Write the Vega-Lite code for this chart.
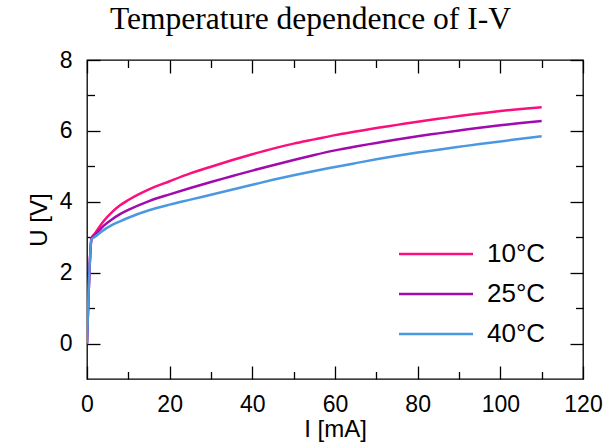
{
  "$schema": "https://vega.github.io/schema/vega-lite/v6.json",
  "width": 496,
  "height": 319,
  "autosize": "none",
  "padding": {"left": 87, "top": 60, "right": 28, "bottom": 69},
  "title": {"text": "Temperature dependence of I-V", "font": "Liberation Serif", "fontSize": 31.5, "fontWeight": "normal", "color": "black", "offset": 14, "anchor": "start", "frame": "group", "dx": 23},
  "config": {
    "view": {"stroke": "black", "strokeWidth": 1.3},
    "axis": {"grid": false, "domain": false, "labelFlush": false, "tickColor": "black", "tickWidth": 1.3, "labelFont": "Liberation Sans", "labelFontSize": 23, "labelColor": "black", "titleFont": "Liberation Sans", "titleFontSize": 24, "titleFontWeight": "normal", "titleColor": "black"},
    "legend": {"labelFont": "Liberation Sans", "labelFontSize": 26, "labelColor": "black"}
  },
  "data": {"values": [
    {"T": "10°C", "I": 0, "U": 0}, {"T": "10°C", "I": 1.1, "U": 2.97}, {"T": "10°C", "I": 2, "U": 3.12}, {"T": "10°C", "I": 4, "U": 3.45}, {"T": "10°C", "I": 6, "U": 3.70}, {"T": "10°C", "I": 8, "U": 3.90}, {"T": "10°C", "I": 10, "U": 4.05}, {"T": "10°C", "I": 15, "U": 4.35}, {"T": "10°C", "I": 20, "U": 4.58}, {"T": "10°C", "I": 25, "U": 4.80}, {"T": "10°C", "I": 30, "U": 4.99}, {"T": "10°C", "I": 35, "U": 5.17}, {"T": "10°C", "I": 40, "U": 5.34}, {"T": "10°C", "I": 45, "U": 5.50}, {"T": "10°C", "I": 50, "U": 5.64}, {"T": "10°C", "I": 55, "U": 5.76}, {"T": "10°C", "I": 60, "U": 5.88}, {"T": "10°C", "I": 65, "U": 5.98}, {"T": "10°C", "I": 70, "U": 6.08}, {"T": "10°C", "I": 75, "U": 6.17}, {"T": "10°C", "I": 80, "U": 6.26}, {"T": "10°C", "I": 85, "U": 6.34}, {"T": "10°C", "I": 90, "U": 6.42}, {"T": "10°C", "I": 95, "U": 6.49}, {"T": "10°C", "I": 100, "U": 6.56}, {"T": "10°C", "I": 105, "U": 6.62}, {"T": "10°C", "I": 110, "U": 6.67},
    {"T": "25°C", "I": 0, "U": 0}, {"T": "25°C", "I": 1.1, "U": 2.96}, {"T": "25°C", "I": 2, "U": 3.07}, {"T": "25°C", "I": 4, "U": 3.32}, {"T": "25°C", "I": 6, "U": 3.50}, {"T": "25°C", "I": 8, "U": 3.65}, {"T": "25°C", "I": 10, "U": 3.77}, {"T": "25°C", "I": 15, "U": 4.02}, {"T": "25°C", "I": 20, "U": 4.21}, {"T": "25°C", "I": 25, "U": 4.39}, {"T": "25°C", "I": 30, "U": 4.56}, {"T": "25°C", "I": 35, "U": 4.72}, {"T": "25°C", "I": 40, "U": 4.88}, {"T": "25°C", "I": 45, "U": 5.03}, {"T": "25°C", "I": 50, "U": 5.18}, {"T": "25°C", "I": 55, "U": 5.32}, {"T": "25°C", "I": 60, "U": 5.45}, {"T": "25°C", "I": 65, "U": 5.56}, {"T": "25°C", "I": 70, "U": 5.66}, {"T": "25°C", "I": 75, "U": 5.76}, {"T": "25°C", "I": 80, "U": 5.85}, {"T": "25°C", "I": 85, "U": 5.93}, {"T": "25°C", "I": 90, "U": 6.01}, {"T": "25°C", "I": 95, "U": 6.09}, {"T": "25°C", "I": 100, "U": 6.16}, {"T": "25°C", "I": 105, "U": 6.22}, {"T": "25°C", "I": 110, "U": 6.28},
    {"T": "40°C", "I": 0, "U": 0}, {"T": "40°C", "I": 1.1, "U": 2.94}, {"T": "40°C", "I": 2, "U": 3.02}, {"T": "40°C", "I": 4, "U": 3.20}, {"T": "40°C", "I": 6, "U": 3.34}, {"T": "40°C", "I": 8, "U": 3.45}, {"T": "40°C", "I": 10, "U": 3.55}, {"T": "40°C", "I": 15, "U": 3.76}, {"T": "40°C", "I": 20, "U": 3.92}, {"T": "40°C", "I": 25, "U": 4.06}, {"T": "40°C", "I": 30, "U": 4.20}, {"T": "40°C", "I": 35, "U": 4.34}, {"T": "40°C", "I": 40, "U": 4.48}, {"T": "40°C", "I": 45, "U": 4.62}, {"T": "40°C", "I": 50, "U": 4.75}, {"T": "40°C", "I": 55, "U": 4.87}, {"T": "40°C", "I": 60, "U": 4.98}, {"T": "40°C", "I": 65, "U": 5.09}, {"T": "40°C", "I": 70, "U": 5.20}, {"T": "40°C", "I": 75, "U": 5.30}, {"T": "40°C", "I": 80, "U": 5.39}, {"T": "40°C", "I": 85, "U": 5.47}, {"T": "40°C", "I": 90, "U": 5.55}, {"T": "40°C", "I": 95, "U": 5.63}, {"T": "40°C", "I": 100, "U": 5.70}, {"T": "40°C", "I": 105, "U": 5.78}, {"T": "40°C", "I": 110, "U": 5.85}
  ]},
  "layer": [
    {
      "mark": {"type": "line", "strokeWidth": 2.5, "clip": true, "interpolate": "monotone"},
      "encoding": {
        "x": {"field": "I", "type": "quantitative", "scale": {"domain": [0, 120], "nice": false, "zero": false},
              "axis": {"orient": "bottom", "values": [0, 20, 40, 60, 80, 100, 120], "tickSize": -13, "labelPadding": 27, "title": "I [mA]", "titlePadding": 1}},
        "y": {"field": "U", "type": "quantitative", "scale": {"domain": [-1, 8], "nice": false, "zero": false},
              "axis": {"orient": "left", "values": [0, 2, 4, 6, 8], "tickSize": -13, "labelPadding": 28, "title": "U [V]", "titlePadding": 8}},
        "color": {"field": "T", "type": "nominal", "sort": ["10°C", "25°C", "40°C"],
                  "scale": {"domain": ["10°C", "25°C", "40°C"], "range": ["#fa0f7d", "#a10aaf", "#4a98e2"]},
                  "legend": {"title": null, "orient": "none", "legendX": 336, "legendY": 181, "symbolType": "M-7.4,0H7.4", "symbolSize": 100, "symbolStrokeWidth": 2.5, "labelOffset": 38, "rowPadding": 14}}
      }
    },
    {
      "mark": {"type": "line", "opacity": 0},
      "encoding": {
        "x": {"field": "I", "type": "quantitative", "axis": {"orient": "bottom", "values": [10, 30, 50, 70, 90, 110], "tickSize": -7.5, "labels": false, "title": null}},
        "y": {"field": "U", "type": "quantitative", "axis": {"orient": "left", "values": [1, 3, 5, 7], "tickSize": -7.5, "labels": false, "title": null}}
      }
    },
    {
      "mark": {"type": "line", "opacity": 0},
      "encoding": {
        "x": {"field": "I", "type": "quantitative", "axis": {"orient": "top", "values": [0, 20, 40, 60, 80, 100, 120], "tickSize": -13, "labels": false, "title": null}},
        "y": {"field": "U", "type": "quantitative", "axis": {"orient": "right", "values": [0, 2, 4, 6, 8], "tickSize": -13, "labels": false, "title": null}}
      }
    },
    {
      "mark": {"type": "line", "opacity": 0},
      "encoding": {
        "x": {"field": "I", "type": "quantitative", "axis": {"orient": "top", "values": [10, 30, 50, 70, 90, 110], "tickSize": -7.5, "labels": false, "title": null}},
        "y": {"field": "U", "type": "quantitative", "axis": {"orient": "right", "values": [1, 3, 5, 7], "tickSize": -7.5, "labels": false, "title": null}}
      }
    }
  ],
  "resolve": {"axis": {"x": "independent", "y": "independent"}}
}
